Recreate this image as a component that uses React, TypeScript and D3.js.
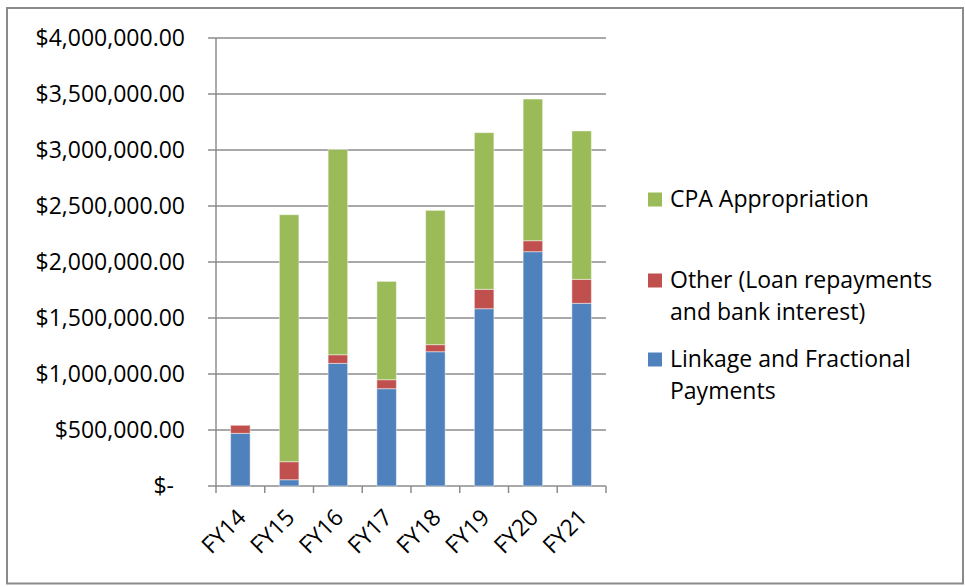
import React, { useEffect, useRef } from "react";
import * as d3 from "d3";

// Fiscal years on the x-axis
const years = ["FY14", "FY15", "FY16", "FY17", "FY18", "FY19", "FY20", "FY21"];
// Stacked series (bottom to top)
const linkage = [470000, 56000, 1095000, 869000, 1199000, 1583000, 2092000, 1631000];
const other = [72000, 161000, 77000, 80000, 63000, 173000, 98000, 214000];
const cpa = [0, 2205000, 1833000, 878000, 1199000, 1399000, 1265000, 1325000];
// Y-axis ticks
const yTicks = [0, 500000, 1000000, 1500000, 2000000, 2500000, 3000000, 3500000, 4000000];

const seriesKeys = ["linkage", "other", "cpa"];
const colors: Record<string, string> = {
	linkage: "#4F81BD",
	other: "#C0504D",
	cpa: "#9BBB59",
};
const legendItems = [
	{ key: "cpa", lines: ["CPA Appropriation"] },
	{ key: "other", lines: ["Other (Loan repayments", "and bank interest)"] },
	{ key: "linkage", lines: ["Linkage and Fractional", "Payments"] },
];

const font = "'Open Sans', 'Noto Sans', sans-serif";
const fontSize = "23px";

const Chart = () => {
	const ref = useRef<SVGSVGElement>(null);

	useEffect(() => {
		const w = 965;
		const left = 216;
		const right = 606;
		const top = 38;
		const bottom = 486;

		const svg = d3.select(ref.current).html("");

		// Outer frame
		svg
			.append("rect")
			.attr("x", 7)
			.attr("y", 8)
			.attr("width", w - 9)
			.attr("height", 575.5)
			.attr("fill", "#fff")
			.attr("stroke", "#8a8a8a")
			.attr("stroke-width", 2);

		const rows = years.map((y, i) => ({
			year: y,
			linkage: linkage[i],
			other: other[i],
			cpa: cpa[i],
		}));

		const x = d3
			.scaleBand()
			.domain(years)
			.range([left, right])
			.paddingInner(0.6)
			.paddingOuter(0.3);

		const yScale = d3.scaleLinear().domain([0, 4000000]).range([bottom, top]);

		// Gridlines + y labels
		const grid = svg.append("g");
		grid
			.selectAll("line")
			.data(yTicks)
			.join("line")
			.attr("x1", left - 8)
			.attr("x2", right)
			.attr("y1", d => yScale(d))
			.attr("y2", d => yScale(d))
			.attr("stroke", "#8c8c8c")
			.attr("stroke-width", 1.5);

		const money = d3.format("$,.2f");
		grid
			.selectAll("text")
			.data(yTicks)
			.join("text")
			.attr("x", d => (d === 0 ? 174 : 185))
			.attr("y", d => yScale(d) + 8)
			.attr("text-anchor", "end")
			.style("font-family", font)
			.style("font-size", fontSize)
			.attr("fill", "#000")
			.text(d => (d === 0 ? "$-" : money(d)));

		// Bars
		const stack = d3.stack<any>().keys(seriesKeys)(rows);
		svg
			.append("g")
			.selectAll("g")
			.data(stack)
			.join("g")
			.attr("fill", d => colors[d.key])
			.selectAll("rect")
			.data(d => d.filter(p => p[1] - p[0] > 0))
			.join("rect")
			.attr("x", d => x(d.data.year) as number)
			.attr("width", x.bandwidth())
			.attr("y", d => yScale(d[1]))
			.attr("height", d => yScale(d[0]) - yScale(d[1]))
			.attr("stroke", "rgba(255,255,255,0.45)")
			.attr("stroke-width", 1);

		// Y axis line
		svg
			.append("line")
			.attr("x1", left)
			.attr("x2", left)
			.attr("y1", top)
			.attr("y2", bottom)
			.attr("stroke", "#8c8c8c")
			.attr("stroke-width", 1.5);

		// X axis tick marks at category boundaries
		const step = x.step();
		const boundaries = d3.range(years.length + 1).map(i => left + i * step);
		svg
			.append("g")
			.selectAll("line")
			.data(boundaries)
			.join("line")
			.attr("x1", d => d)
			.attr("x2", d => d)
			.attr("y1", bottom)
			.attr("y2", bottom + 7)
			.attr("stroke", "#8c8c8c")
			.attr("stroke-width", 1.5);

		// X labels, rotated
		svg
			.append("g")
			.selectAll("text")
			.data(years)
			.join("text")
			.attr("transform", d => {
				const cx = (x(d) as number) + x.bandwidth() / 2 + 7;
				return `translate(${cx}, ${bottom + 33}) rotate(-45)`;
			})
			.attr("text-anchor", "end")
			.style("font-family", font)
			.style("font-size", fontSize)
			.attr("fill", "#000")
			.text(d => d);

		// Legend
		const legendY = [199.5, 280.5, 359.5];
		const legend = svg
			.append("g")
			.selectAll("g")
			.data(legendItems)
			.join("g")
			.attr("transform", (d, i) => `translate(648, ${legendY[i]})`);

		legend
			.append("rect")
			.attr("x", 0)
			.attr("y", -7)
			.attr("width", 14)
			.attr("height", 14)
			.attr("fill", d => colors[d.key]);

		legend
			.append("text")
			.attr("x", 22)
			.attr("y", 7.5)
			.style("font-family", font)
			.style("font-size", fontSize)
			.attr("fill", "#000")
			.selectAll("tspan")
			.data(d => d.lines)
			.join("tspan")
			.attr("x", 22)
			.attr("dy", (d, i) => (i === 0 ? 0 : 32))
			.text(d => d);
	}, []);

	return <svg ref={ref} width={965} height={587} style={{ display: "block" }} />;
};

export default function App() {
	return (
		<div style={{ position: "absolute", left: 0, top: 0 }}>
			<Chart />
		</div>
	);
}
